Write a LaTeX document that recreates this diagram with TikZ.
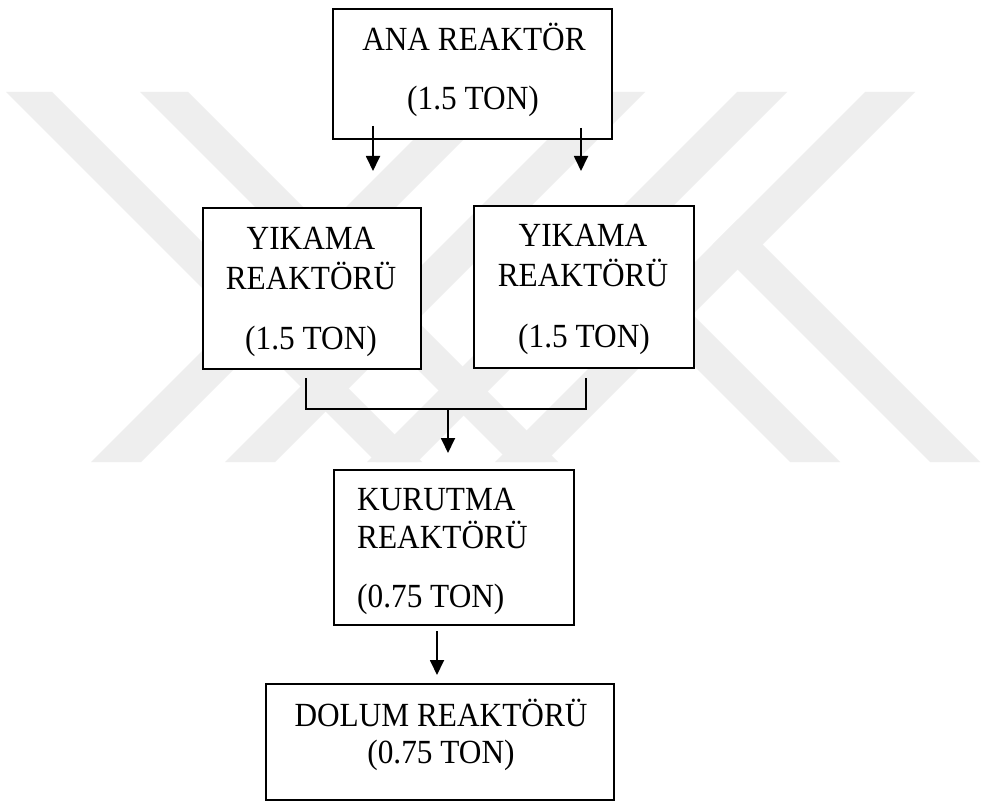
\documentclass[tikz,border=0pt]{standalone}
\usepackage{fontspec}
\setmainfont{Liberation Serif}
\usetikzlibrary{arrows.meta}
\definecolor{wm}{RGB}{238,238,238}
% slightly tall setting of the box texts
\newcommand{\tallt}[1]{\scalebox{1}[1.08]{#1}}
\begin{document}
\begin{tikzpicture}[x=1pt,y=-1pt,
  box/.style={draw, line width=1.8pt, inner sep=0pt},
  lbl/.style={font=\fontsize{31.3}{36}\selectfont, inner sep=0pt},
  flow/.style={line width=1.8pt, -{Triangle[length=15pt,width=14pt]}},
  link/.style={line width=1.8pt},
  wmark/.style={fill=wm, draw=none}]
\fill[white] (0,0) rectangle (981,802);
\useasboundingbox (0,0) rectangle (981,802);

% background stripes of the watermark
\fill[wmark] (6,92) -- (52,92) -- (422,462) -- (376,462) -- cycle;
\fill[wmark] (140,92) -- (188,92) -- (558,462) -- (510,462) -- cycle;
\fill[wmark] (91,462) -- (141,462) -- (511,92) -- (461,92) -- cycle;
\fill[wmark] (225,462) -- (275,462) -- (645,92) -- (595,92) -- cycle;
\fill[wmark] (367,462) -- (417,462) -- (787,92) -- (737,92) -- cycle;
\fill[wmark] (495,462) -- (545,462) -- (915,92) -- (865,92) -- cycle;
\fill[wmark] (790,462) -- (840,462) -- (603.5,225.5) -- (578.5,250.5) -- cycle;
\fill[wmark] (930,462) -- (980,462) -- (737.5,219.5) -- (712.5,244.5) -- cycle;

% boxes
\node[box, fill=white, minimum width=279pt, minimum height=130pt] (ana) at (472.5,74) {};
\node[box, fill=white, minimum width=218pt, minimum height=161pt] (yl) at (312,288.5) {};
\node[box, fill=white, minimum width=220pt, minimum height=162pt] (yr) at (584,287) {};
\node[box, fill=white, minimum width=240pt, minimum height=155pt] (kur) at (454,547.5) {};
\node[box, fill=white, minimum width=348pt, minimum height=116pt] (dol) at (440,742) {};

% labels
\node[lbl, anchor=base] (ana1) at (474,51) {\tallt{ANA REAKTÖR}};
\node[lbl, anchor=base] (ana2) at (473,110) {\tallt{(1.5 TON)}};
\node[lbl, anchor=base] (yl1) at (311,249) {\tallt{YIKAMA}};
\node[lbl, anchor=base] (yl2) at (311,289) {\tallt{REAKTÖRÜ}};
\node[lbl, anchor=base] (yl3) at (311,349) {\tallt{(1.5 TON)}};
\node[lbl, anchor=base] (yr1) at (583,246) {\tallt{YIKAMA}};
\node[lbl, anchor=base] (yr2) at (583,286) {\tallt{REAKTÖRÜ}};
\node[lbl, anchor=base] (yr3) at (584,347) {\tallt{(1.5 TON)}};
\node[lbl, anchor=base west] (kur1) at (357,510) {\tallt{KURUTMA}};
\node[lbl, anchor=base west] (kur2) at (357,548) {\tallt{REAKTÖRÜ}};
\node[lbl, anchor=base west] (kur3) at (357,607) {\tallt{(0.75 TON)}};
\node[lbl, anchor=base] (dol1) at (441,726) {\tallt{DOLUM REAKTÖRÜ}};
\node[lbl, anchor=base] (dol2) at (441,763) {\tallt{(0.75 TON)}};

% connector end points
\coordinate (a1s) at (373,126);
\coordinate (a1e) at (373,171);
\coordinate (a2s) at (581,128);
\coordinate (a2e) at (581,171);
\coordinate (bl) at (306,378);
\coordinate (br) at (586,378);
\coordinate (bm) at (448,409);
\coordinate (bme) at (448,453);
\coordinate (a4s) at (437,631);
\coordinate (a4e) at (437,675);

% connectors
\draw[flow] (a1s) -- (a1e);
\draw[flow] (a2s) -- (a2e);
\draw[link] (bl) |- (bm) -| (br);
\draw[flow] (bm) -- (bme);
\draw[flow] (a4s) -- (a4e);
\end{tikzpicture}
\end{document}
